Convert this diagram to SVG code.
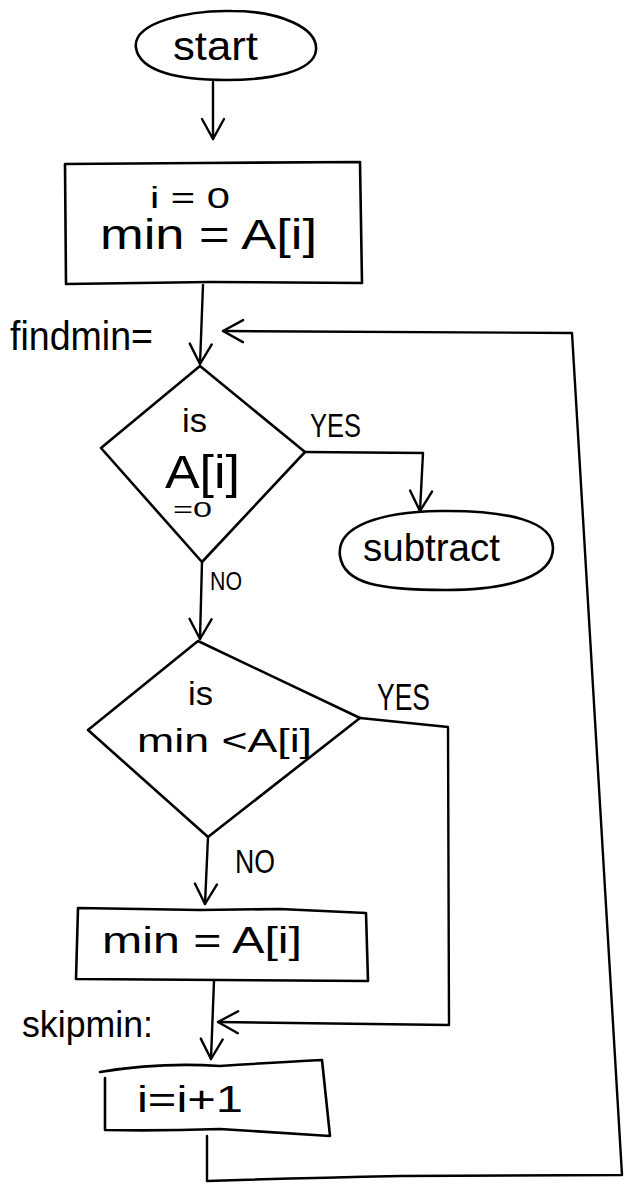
<svg xmlns="http://www.w3.org/2000/svg" width="627" height="1184" viewBox="0 0 627 1184">
<defs>
<style>
.s{fill:none;stroke:#000;stroke-width:2.6;stroke-linejoin:round;stroke-linecap:round}
.t{font-family:"Liberation Sans",Arial,sans-serif;fill:#000;lengthAdjust:spacingAndGlyphs}
.c{fill:none;stroke:#000;stroke-width:2.4;stroke-linejoin:round;stroke-linecap:round;marker-end:url(#v)}
.l{fill:none;stroke:#000;stroke-width:2.4;stroke-linejoin:round;stroke-linecap:round}
</style>
<marker id="v" markerUnits="userSpaceOnUse" viewBox="-24 -16 28 32" refX="0" refY="0" markerWidth="28" markerHeight="32" orient="auto">
<path d="M-20,-11 L0,0 L-20,11" fill="none" stroke="#000" stroke-width="2.4" stroke-linecap="round" stroke-linejoin="round"/>
</marker>
</defs>
<rect width="627" height="1184" fill="#fff"/>

<g id="connectors">
<path class="c" d="M213,82 L213,139"/>
<path class="c" d="M203,285 L200,364"/>
<path class="c" d="M207,1136 L207,1181 Q300,1178 400,1176 L622,1175 L572,333 L223,331"/>
<path class="c" d="M305,452 L423,453 L420,511"/>
<path class="c" d="M202,562 L200,639"/>
<path class="c" d="M360,718 L448,727 L449,1025 L218,1022"/>
<path class="c" d="M208,837 L205,904"/>
<path class="c" d="M214,981 L211,1059"/>
</g>

<g id="start">
<path class="s" d="M136,48 C132,22 190,10 232,11 C280,11 318,28 316,50 C314,72 270,80 226,80 C180,80 140,72 136,48 Z"/>
<text class="t" x="173" y="60" font-size="40" textLength="85" lengthAdjust="spacingAndGlyphs">start</text>
</g>

<g id="init">
<path class="s" d="M65,164 L200,163 L360,162 L362,283 L210,282 L66,284 Z"/>
<text class="t" x="150" y="208" font-size="30" textLength="80" lengthAdjust="spacingAndGlyphs">i = 0</text>
<text class="t" x="100" y="249" font-size="42" textLength="217" lengthAdjust="spacingAndGlyphs">min = A[i]</text>
</g>

<g id="findmin-label">
<text class="t" x="10" y="350" font-size="40" textLength="143" lengthAdjust="spacingAndGlyphs">findmin=</text>
</g>

<g id="check-zero">
<path class="s" d="M200,366 L305,452 L202,562 L101,448 Z"/>
<text class="t" x="182" y="432" font-size="34" textLength="25" lengthAdjust="spacingAndGlyphs">is</text>
<text class="t" x="165" y="488" font-size="46" textLength="75" lengthAdjust="spacingAndGlyphs">A[i]</text>
<text class="t" x="173" y="517" font-size="22" textLength="39" lengthAdjust="spacingAndGlyphs">=0</text>
<text class="t" x="310" y="437" font-size="34" textLength="51" lengthAdjust="spacingAndGlyphs">YES</text>
<text class="t" x="210" y="590" font-size="26" textLength="32" lengthAdjust="spacingAndGlyphs">NO</text>
</g>

<g id="subtract">
<path class="s" d="M340,556 C336,526 380,512 440,511 C510,510 553,522 553,548 C553,576 510,590 446,590 C380,590 344,584 340,556 Z"/>
<text class="t" x="363" y="561" font-size="38" textLength="137" lengthAdjust="spacingAndGlyphs">subtract</text>
</g>

<g id="check-min">
<path class="s" d="M198,641 L360,718 L208,837 L88,730 Z"/>
<text class="t" x="188" y="705" font-size="34" textLength="25" lengthAdjust="spacingAndGlyphs">is</text>
<text class="t" x="137" y="752" font-size="34" textLength="175" lengthAdjust="spacingAndGlyphs">min &lt;A[i]</text>
<text class="t" x="377" y="710" font-size="36" textLength="53" lengthAdjust="spacingAndGlyphs">YES</text>
<text class="t" x="235" y="873" font-size="34" textLength="40" lengthAdjust="spacingAndGlyphs">NO</text>
</g>

<g id="set-min">
<path class="s" d="M78,908 L200,910 L280,909 L366,913 L368,981 L76,979 Z"/>
<text class="t" x="102" y="953" font-size="36" textLength="200" lengthAdjust="spacingAndGlyphs">min = A[i]</text>
</g>

<g id="skipmin-label">
<text class="t" x="22" y="1037" font-size="36" textLength="131" lengthAdjust="spacingAndGlyphs">skipmin:</text>
</g>

<g id="increment">
<path class="s" d="M100,1072 Q160,1062 220,1066 Q280,1062 322,1060 L330,1136 Q270,1132 220,1129 Q160,1131 105,1130 L105,1078"/>
<text class="t" x="137" y="1112" font-size="36" textLength="106" lengthAdjust="spacingAndGlyphs">i=i+1</text>
</g>
</svg>
